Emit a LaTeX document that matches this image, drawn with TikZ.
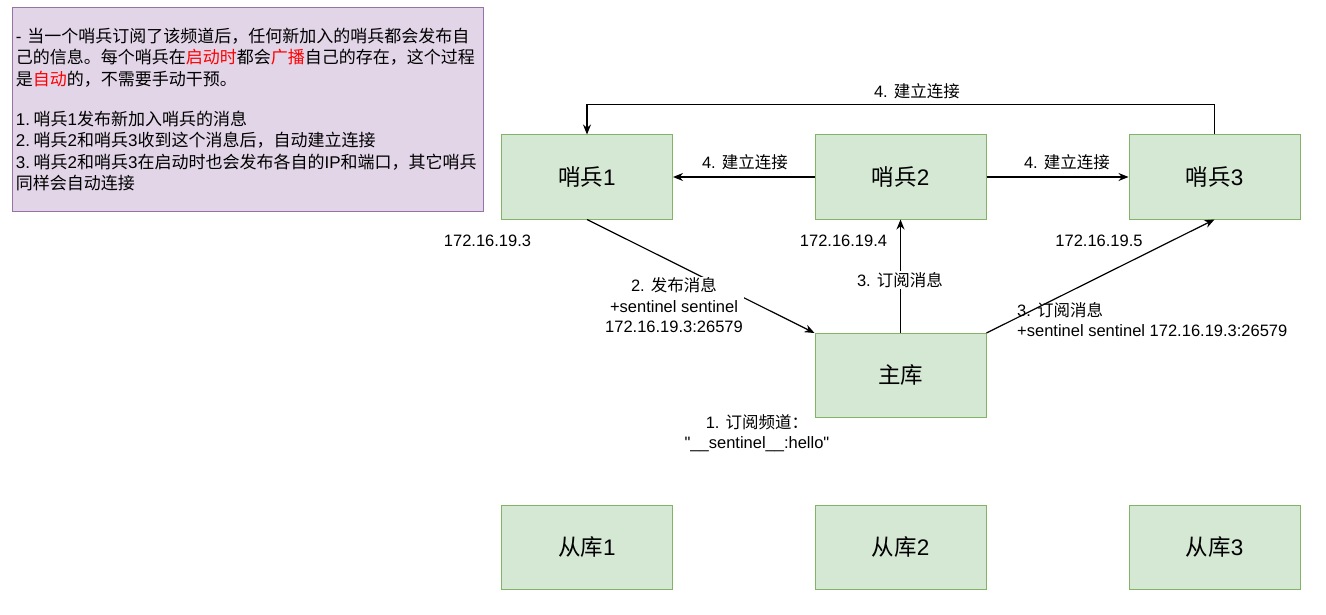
\documentclass[tikz,border=0pt]{standalone}
\usepackage{fontspec}
\setmainfont{Liberation Sans}
\newfontfamily\qf{Liberation Sans}
\newfontfamily\cjk{Noto Sans CJK SC}
\newcommand\zh[1]{{\cjk #1}}
\usetikzlibrary{arrows.meta}
\definecolor{gfill}{HTML}{D5E8D4}
\definecolor{gdraw}{HTML}{82B366}
\definecolor{pfill}{HTML}{E1D5E7}
\definecolor{pdraw}{HTML}{9673A6}
\definecolor{hl}{HTML}{FF0000}
\begin{document}
\begin{tikzpicture}[x=1pt,y=-1pt,
  box/.style={draw=gdraw,fill=gfill,line width=1pt,minimum width=171pt,minimum height=84pt,inner sep=0pt,font=\fontsize{22.5}{27}\selectfont},
  note/.style={draw=pdraw,fill=pfill,line width=1pt,minimum width=471pt,minimum height=203pt,inner xsep=4pt,inner ysep=0pt,text width=463pt,align=left,font=\fontsize{17}{21.5}\selectfont},
  arr/.style={-{Stealth[length=10pt,width=8pt]},line width=1.2pt},
  lbl/.style={font=\fontsize{16.5}{20.5}\selectfont,align=center,inner sep=1pt},
  wlbl/.style={lbl,fill=white}
]
\useasboundingbox (0,0) rectangle (1326,615);

\node[note] (nt) at (247.5,109.5) {- \zh{当一个哨兵订阅了该频道后，任何新加入的哨兵都会发布自}\\
\zh{己的信息。每个哨兵在{\color{hl}启动时}都会{\color{hl}广播}自己的存在，这个过程}\\
\zh{是{\color{hl}自动}的，不需要手动干预。}\\[18.5pt]
1.\hspace{3.5pt}\zh{哨兵}1\zh{发布新加入哨兵的消息}\\
2.\hspace{3.5pt}\zh{哨兵}2\zh{和哨兵}3\zh{收到这个消息后，自动建立连接}\\
3.\hspace{3.5pt}\zh{哨兵}2\zh{和哨兵}3\zh{在启动时也会发布各自的}IP\zh{和端口，其它哨兵}\\
\zh{同样会自动连接}};

\node[box] (s1) at (587,177) {\zh{哨兵}1};
\node[box] (s2) at (900.5,177) {\zh{哨兵}2};
\node[box] (s3) at (1214.5,177) {\zh{哨兵}3};
\node[box] (m) at (900.5,375.5) {\zh{主库}};
\node[box] (r1) at (587,547.5) {\zh{从库}1};
\node[box] (r2) at (900.5,547.5) {\zh{从库}2};
\node[box] (r3) at (1214.5,547.5) {\zh{从库}3};

\draw[arr] (s3.north) -- ++(0,-30) -| (s1.north);
\node[lbl] (l4a) at (917,91) {4. \zh{建立连接}};
\draw[arr] (s2) -- (s1);
\node[lbl] (l4b) at (745,162) {4. \zh{建立连接}};
\draw[arr] (s2) -- (s3);
\node[lbl] (l4c) at (1067,162) {4. \zh{建立连接}};

\draw[arr] (s1.south) -- (m.north west);
\node[wlbl] (l2) at (674,305.5) {2. \zh{发布消息}\\+sentinel sentinel\\172.16.19.3:26579};
\draw[arr] (m.north) -- (s2.south);
\node[wlbl] (l3a) at (900,280) {3. \zh{订阅消息}};
\draw[arr] (m.north east) -- (s3.south);
\node[lbl,align=left,anchor=west] (l3b) at (1016,319.5) {3. \zh{订阅消息}\\+sentinel sentinel 172.16.19.3:26579};

\node[lbl] (ip1) at (487.5,240.5) {172.16.19.3};
\node[lbl] (ip2) at (843.5,240.5) {172.16.19.4};
\node[lbl] (ip3) at (1099,240.5) {172.16.19.5};

\node[lbl] (l1) at (757,433) {1. \zh{订阅频道：}\\{\qf"}\_\_sentinel\_\_:hello{\qf"}};
\end{tikzpicture}
\end{document}
